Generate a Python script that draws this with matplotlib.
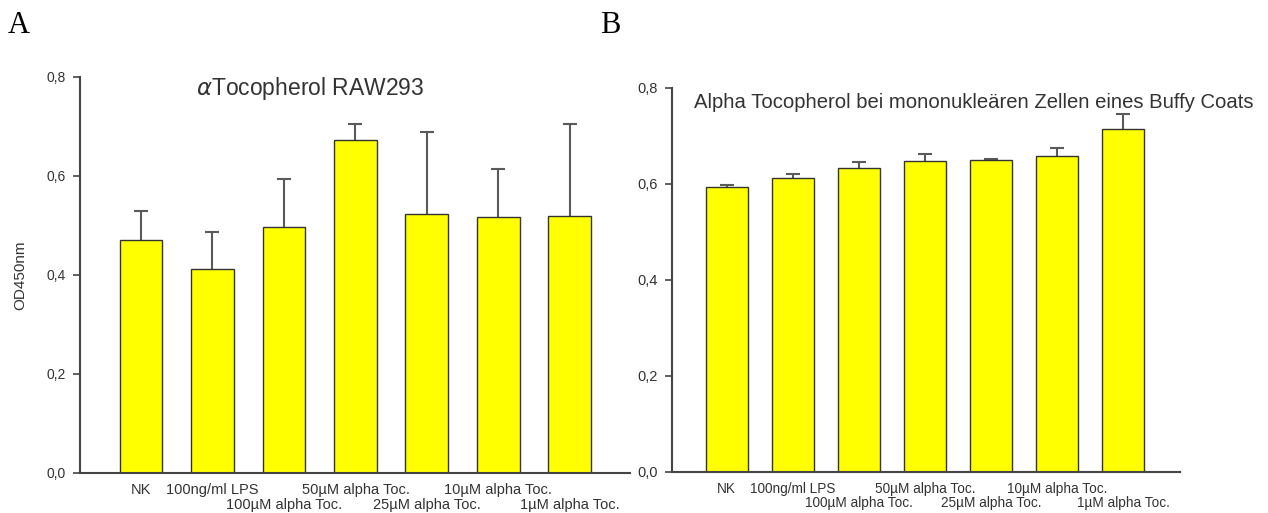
import numpy as np
import matplotlib
matplotlib.use("Agg")
import matplotlib.pyplot as plt

# Group labels (shared by both panels)
groups = ["NK", "100ng/ml LPS", "100µM alpha Toc.", "50µM alpha Toc.",
          "25µM alpha Toc.", "10µM alpha Toc.", "1µM alpha Toc."]

# Panel A: RAW293 cells, mean OD450 and SD
raw_mean = [0.471, 0.412, 0.496, 0.673, 0.523, 0.517, 0.519]
raw_sd = [0.058, 0.074, 0.098, 0.032, 0.166, 0.097, 0.186]

# Panel B: mononuclear cells from a buffy coat
buffy_mean = [0.593, 0.612, 0.634, 0.647, 0.649, 0.658, 0.714]
buffy_sd = [0.004, 0.008, 0.011, 0.015, 0.002, 0.016, 0.031]

text_col = "#333333"
axis_col = "#444444"

plt.rcParams["font.family"] = ["Liberation Sans", "DejaVu Sans"]

fig = plt.figure(figsize=(12.68, 5.13), dpi=100)
axA = fig.add_axes([0.0631, 0.078, 0.4337, 0.772])
axB = fig.add_axes([0.530, 0.080, 0.4006, 0.7485])


def draw_panel(ax, mean, sd, width, xlim, xsize, ysize,
               title, title_xy, title_size):
    x = np.arange(len(mean))
    ax.bar(x, mean, width=width, color="#ffff00", edgecolor="#333333",
           linewidth=1.0, zorder=2)
    eb = ax.errorbar(x, mean, yerr=[np.zeros(len(sd)), sd], fmt="none",
                     ecolor="#5a5a5a", elinewidth=1.5, capsize=5,
                     capthick=1.5, zorder=1)
    # only the upper cap is shown
    eb[1][0].set_visible(False)

    ax.set_xlim(*xlim)
    ax.set_ylim(0, 0.8)
    ax.set_yticks([0.0, 0.2, 0.4, 0.6, 0.8])
    ax.set_yticklabels(["0,0", "0,2", "0,4", "0,6", "0,8"])

    # category labels staggered in two rows: major ticks on top row,
    # minor ticks on the lower row
    top = [0, 1, 3, 5]
    low = [2, 4, 6]
    ax.set_xticks(top)
    ax.set_xticklabels([groups[i] for i in top])
    ax.set_xticks(low, minor=True)
    ax.set_xticklabels([groups[i] for i in low], minor=True)
    ax.tick_params(axis="x", which="major", length=0, pad=7,
                   labelsize=xsize, labelcolor=text_col)
    ax.tick_params(axis="x", which="minor", length=0, pad=7 + 1.05 * xsize,
                   labelsize=xsize, labelcolor=text_col)
    ax.tick_params(axis="y", length=5, width=1.2, color=axis_col,
                   labelsize=ysize, labelcolor=text_col, pad=5)

    for s in ("top", "right"):
        ax.spines[s].set_visible(False)
    for s in ("left", "bottom"):
        ax.spines[s].set_color(axis_col)
        ax.spines[s].set_linewidth(1.5)

    ax.text(title_xy[0], title_xy[1], title, transform=ax.transAxes,
            ha="center", va="center", fontsize=title_size, color=text_col)


draw_panel(axA, raw_mean, raw_sd, 0.6, (-0.853, 6.84), 10.5, 10,
           r"$\alpha$Tocopherol RAW293", (0.418, 0.972), 16.5)
draw_panel(axB, buffy_mean, buffy_sd, 0.635, (-0.83, 6.86), 9.8, 10.5,
           "Alpha Tocopherol bei mononukleären Zellen eines Buffy Coats",
           (0.594, 0.961), 14.6)

axA.set_ylabel("OD450nm", fontsize=11, color=text_col, labelpad=14)

fig.text(0.006, 0.951, "A", fontsize=22, family="Liberation Serif",
         ha="left", va="center", color="black")
fig.text(0.473, 0.951, "B", fontsize=22, family="Liberation Serif",
         ha="left", va="center", color="black")

fig.savefig("out.png", dpi=100)
